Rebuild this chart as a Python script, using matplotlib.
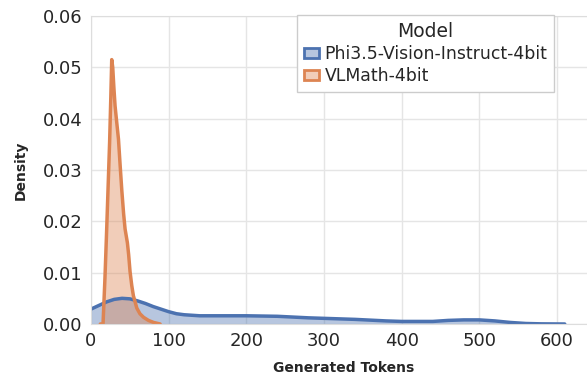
import matplotlib.pyplot as plt
import matplotlib.patches as mpatches
import matplotlib.colors as mcolors
import seaborn as sns

# density curves (x = generated tokens, y = density)
phi_x = [0, 10, 20, 30, 40, 50, 60, 70, 80, 90, 100, 110, 120, 140, 160, 200,
         240, 280, 300, 340, 380, 400, 420, 440, 460, 480, 500, 520, 540, 560,
         580, 610]
phi_d = [0.0029, 0.0036, 0.0043, 0.0048, 0.0050, 0.0049, 0.0045, 0.0040,
         0.0034, 0.0029, 0.0024, 0.0020, 0.0018, 0.0016, 0.0016, 0.0016,
         0.0015, 0.0012, 0.0011, 0.0009, 0.0006, 0.0005, 0.0005, 0.0005,
         0.0007, 0.0008, 0.0008, 0.0006, 0.0003, 0.0001, 0.00003, 0.0]

vlm_x = [12, 15.5, 18, 20, 22, 24, 25.5, 26.7, 28, 29.5, 31, 33, 35.4, 37.5,
         39.7, 42, 43.9, 46.9, 48.5, 50.3, 52.5, 54.6, 59, 63, 67.7, 74,
         80.6, 89]
vlm_d = [0.0, 0.0, 0.009, 0.0175, 0.0265, 0.0355, 0.0440, 0.0515, 0.0500,
         0.0460, 0.0425, 0.0395, 0.0360, 0.0310, 0.0260, 0.0215, 0.0185,
         0.0158, 0.0135, 0.0102, 0.0075, 0.0055, 0.0031, 0.0020, 0.0013,
         0.0007, 0.0003, 0.0]

models = ["Phi3.5-Vision-Instruct-4bit", "VLMath-4bit"]
colors = ["#4c72b0", "#dd8452"]
x_ticks = [0, 100, 200, 300, 400, 500, 600]
y_ticks = [0.00, 0.01, 0.02, 0.03, 0.04, 0.05, 0.06]

sns.set_style("whitegrid")
fig = plt.figure(figsize=(5.87, 3.77), dpi=100)
ax = fig.add_axes([0.155, 0.1406, 0.86, 0.817])

series = [(phi_x, phi_d), (vlm_x, vlm_d)]
for (xs, ds), c in zip(series, colors):
    ax.fill_between(xs, 0, ds, color=c, alpha=0.4, linewidth=0)
    ax.plot(xs, ds, color=c, linewidth=2.5, solid_capstyle="round",
            solid_joinstyle="round")

ax.set_xlim(0, 650)
ax.set_ylim(0, 0.06)
ax.set_xticks(x_ticks)
ax.set_yticks(y_ticks)
ax.set_yticklabels([f"{v:.2f}" for v in y_ticks])
ax.tick_params(labelsize=13, length=0, pad=6)
ax.set_xlabel("Generated Tokens", fontsize=10, fontweight="bold", labelpad=8)
ax.set_ylabel("Density", fontsize=10, fontweight="bold", labelpad=11)
ax.grid(color="#e5e5e5", linewidth=1)
for s in ax.spines.values():
    s.set_color("#dddddd")

handles = [mpatches.Patch(facecolor=(*mcolors.to_rgb(c), 0.4),
                          edgecolor=c, linewidth=2) for c in colors]
leg = ax.legend(handles, models, title="Model", fontsize=12.4, title_fontsize=13.5,
                loc="upper left", bbox_to_anchor=(0.408, 1.004),
                borderaxespad=0, handlelength=0.9, handleheight=0.5,
                handletextpad=0.3, borderpad=0.4, labelspacing=0.25,
                fancybox=False, framealpha=1)
leg.get_frame().set_edgecolor("#cccccc")

fig.savefig("out.png", dpi=100)
